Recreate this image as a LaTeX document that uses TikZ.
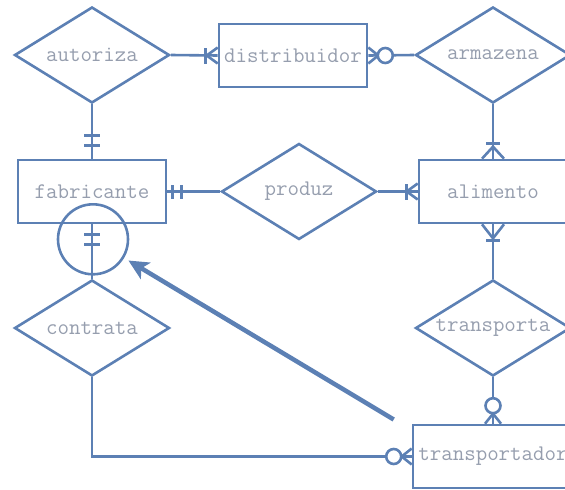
\documentclass[tikz,border=0pt]{standalone}
\usepackage{fontspec}
\usetikzlibrary{arrows.meta,shapes.geometric}
\definecolor{ln}{RGB}{92,128,180}
\definecolor{tx}{RGB}{150,158,174}
\begin{document}
\begin{tikzpicture}[x=1pt,y=-1pt,
  lw/.style={line width=2.6pt},
  ent/.style={draw=ln, lw, rectangle, minimum width=148pt, minimum height=63pt, inner sep=1pt, text=tx,
     font=\ttfamily\fontsize{22.3}{24}\selectfont},
  rel/.style={draw=ln, lw, diamond, aspect=1.6, minimum width=155pt, minimum height=96pt, inner sep=0pt, text=tx,
     font=\ttfamily\fontsize{22.3}{24}\selectfont},
  con/.style={draw=ln, lw},
  ring/.style={draw=ln, lw, fill=white, circle, inner sep=0pt, minimum size=15pt},
  bigarrow/.style={draw=ln, line width=4.5pt, -{Stealth[length=20pt,width=19pt,inset=5pt]}}
]
\useasboundingbox (0,0) rectangle (565,490);
\clip (0,0) rectangle (565,490);

% entities and relationships
\node[rel] (autoriza) at (92,55) {autoriza};
\node[ent] (distribuidor) at (293,55.5) {distribuidor};
\node[rel] (armazena) at (493,55) {armazena};
\node[ent] (fabricante) at (92,191.5) {fabricante};
\node[rel] (produz) at (299,191.5) {produz};
\node[ent] (alimento) at (493,191.5) {alimento};
\node[rel] (contrata) at (92,328) {contrata};
\node[rel] (transporta) at (493,328) {transporta};
\node[ent, minimum width=160pt] (transportador) at (493,456.5) {transportador};

% autoriza -- distribuidor (one or many at distribuidor)
\draw[con] (autoriza.east) -- (distribuidor.west);
\draw[con] ([xshift=-12pt,yshift=-8pt]distribuidor.west) -- ([xshift=-12pt,yshift=8pt]distribuidor.west);
\draw[con] ([yshift=8pt]distribuidor.west) -- ([xshift=-11pt]distribuidor.west) -- ([yshift=-8pt]distribuidor.west);

% distribuidor -- armazena (zero or many at distribuidor)
\draw[con] (distribuidor.east) -- (armazena.west);
\draw[con] ([yshift=8pt]distribuidor.east) -- ([xshift=10pt]distribuidor.east) -- ([yshift=-8pt]distribuidor.east);
\node[ring] (r1) at ([xshift=17pt]distribuidor.east) {};

% autoriza -- fabricante (exactly one)
\draw[con] (autoriza.south) -- (fabricante.north);
\draw[con] ([xshift=-8pt,yshift=13pt]fabricante.north) -- ([xshift=8pt,yshift=13pt]fabricante.north);
\draw[con] ([xshift=-8pt,yshift=23pt]fabricante.north) -- ([xshift=8pt,yshift=23pt]fabricante.north);

% fabricante -- produz (exactly one)
\draw[con] (fabricante.east) -- (produz.west);
\draw[con] ([xshift=5pt,yshift=-7pt]fabricante.east) -- ([xshift=5pt,yshift=7pt]fabricante.east);
\draw[con] ([xshift=14pt,yshift=-7pt]fabricante.east) -- ([xshift=14pt,yshift=7pt]fabricante.east);

% produz -- alimento (one or many)
\draw[con] (produz.east) -- (alimento.west);
\draw[con] ([xshift=-11pt,yshift=-8pt]alimento.west) -- ([xshift=-11pt,yshift=8pt]alimento.west);
\draw[con] ([yshift=8pt]alimento.west) -- ([xshift=-11pt]alimento.west) -- ([yshift=-8pt]alimento.west);

% armazena -- alimento (one or many)
\draw[con] (armazena.south) -- (alimento.north);
\draw[con] ([xshift=-7pt,yshift=15pt]alimento.north) -- ([xshift=7pt,yshift=15pt]alimento.north);
\draw[con] ([xshift=-11pt]alimento.north) -- ([yshift=12pt]alimento.north) -- ([xshift=11pt]alimento.north);

% alimento -- transporta (one or many)
\draw[con] (alimento.south) -- (transporta.north);
\draw[con] ([xshift=-7pt,yshift=-16pt]alimento.south) -- ([xshift=7pt,yshift=-16pt]alimento.south);
\draw[con] ([xshift=-11pt]alimento.south) -- ([yshift=-14pt]alimento.south) -- ([xshift=11pt]alimento.south);

% fabricante -- contrata (exactly one)
\draw[con] (fabricante.south) -- (contrata.north);
\draw[con] ([xshift=-8pt,yshift=-10pt]fabricante.south) -- ([xshift=8pt,yshift=-10pt]fabricante.south);
\draw[con] ([xshift=-8pt,yshift=-20pt]fabricante.south) -- ([xshift=8pt,yshift=-20pt]fabricante.south);
\node[draw=ln, lw, circle, minimum size=70pt, inner sep=0pt] (hl) at ([xshift=1pt,yshift=-15pt]fabricante.south) {};

% transporta -- transportador (zero or many)
\draw[con] (transporta.south) -- (transportador.north);
\draw[con] ([xshift=-8pt]transportador.north) -- ([yshift=10pt]transportador.north) -- ([xshift=8pt]transportador.north);
\node[ring] (r2) at ([yshift=18pt]transportador.north) {};

% contrata -- transportador (zero or many)
\draw[con] (contrata.south) |- (transportador.west);
\draw[con] ([yshift=8pt]transportador.west) -- ([xshift=-10pt]transportador.west) -- ([yshift=-8pt]transportador.west);
\node[ring] (r3) at ([xshift=-18pt]transportador.west) {};

% highlight arrow
\coordinate (tail) at ([xshift=-18pt,yshift=37pt]transportador.west);
\draw[bigarrow, shorten >=5pt] (tail) -- (hl);
\end{tikzpicture}
\end{document}
